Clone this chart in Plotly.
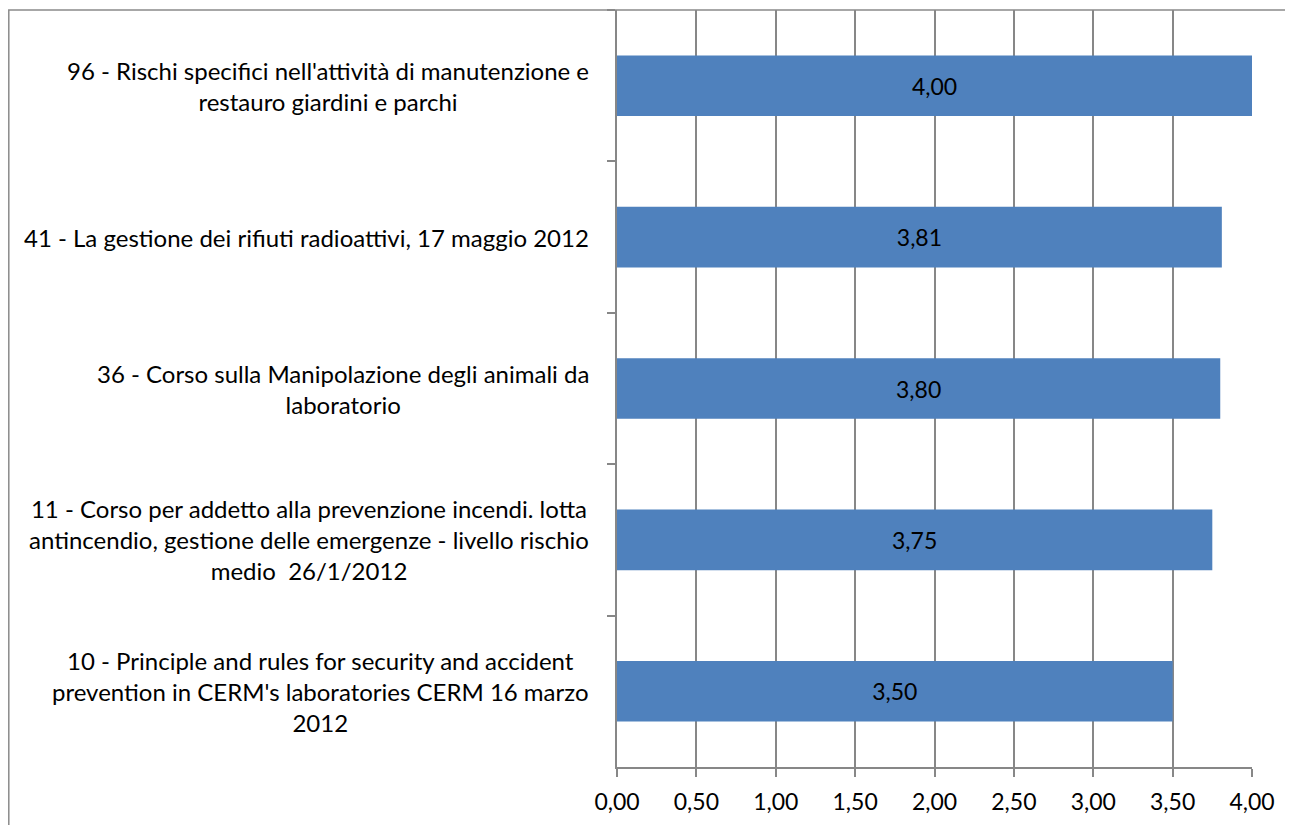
import plotly.graph_objects as go

categories = [
    "96 - Rischi specifici nell'attività di manutenzione e<br>restauro giardini e parchi",
    "41 - La gestione dei rifiuti radioattivi, 17 maggio 2012",
    "36 - Corso sulla Manipolazione degli animali da<br>laboratorio",
    "11 - Corso per addetto alla prevenzione incendi. lotta<br>antincendio, gestione delle emergenze - livello rischio<br>medio\u00a0 26/1/2012",
    "10 - Principle and rules for security and accident<br>prevention in CERM's laboratories CERM 16 marzo<br>2012",
]
values = [4.00, 3.81, 3.80, 3.75, 3.50]
value_labels = ["4,00", "3,81", "3,80", "3,75", "3,50"]
x_ticks = [0, 0.5, 1, 1.5, 2, 2.5, 3, 3.5, 4]
x_tick_labels = ["0,00", "0,50", "1,00", "1,50", "2,00", "2,50", "3,00", "3,50", "4,00"]

FONT = "Lato"
GRID = "#878787"
OFF = 8  # default page body margin
W, H = 1293 - OFF, 825 - OFF
# target plot area in page pixels: x 617..1252, y 10..767
L = 617 - OFF
R = 1293 - 1252
T = 10 - OFF
B = 825 - 767
pw = W - L - R
ph = H - T - B

fig = go.Figure()
fig.add_trace(go.Bar(
    y=categories,
    x=values,
    orientation="h",
    marker=dict(color="#4F81BD", line=dict(width=0)),
    width=0.4,
    text=value_labels,
    textposition="inside",
    insidetextanchor="middle",
    textangle=0,
    textfont=dict(family=FONT, size=23, color="black"),
    hoverinfo="skip",
))

for cat in categories:
    fig.add_annotation(
        x=0, xref="paper", y=cat, yref="y",
        text=cat, showarrow=False,
        xanchor="right", yanchor="middle", align="center",
        xshift=-26,
        font=dict(family=FONT, size=24, color="black"),
    )

# outer chart border
fig.add_shape(
    type="rect", xref="paper", yref="paper",
    x0=(0.8 - L) / pw, x1=(1291 - OFF - L) / pw,
    y0=-(B + 20) / ph, y1=1.0,
    line=dict(color="#8a8a8a", width=1.5), fillcolor="rgba(0,0,0,0)",
    layer="above",
)

fig.update_layout(
    width=W, height=H,
    margin=dict(l=L, r=R, t=T, b=B, pad=0),
    paper_bgcolor="white", plot_bgcolor="white",
    showlegend=False,
    font=dict(family=FONT, size=23, color="black"),
    xaxis=dict(
        range=[0, 4], tickvals=x_ticks, ticktext=x_tick_labels,
        showgrid=True, gridcolor=GRID, gridwidth=1.5,
        zeroline=False, showline=True, linecolor=GRID, linewidth=1.5,
        ticks="outside", ticklen=8, tickcolor=GRID, tickwidth=1.5,
        ticklabelstandoff=6,
        tickfont=dict(family=FONT, size=23, color="black"),
    ),
    yaxis=dict(
        type="category", categoryorder="array", categoryarray=categories,
        autorange="reversed", showticklabels=False,
        tickson="boundaries", ticks="outside", ticklen=8,
        tickcolor=GRID, tickwidth=1.5,
        showgrid=False, zeroline=False,
        showline=True, linecolor=GRID, linewidth=1.5,
    ),
)

fig.write_html("out.html")
